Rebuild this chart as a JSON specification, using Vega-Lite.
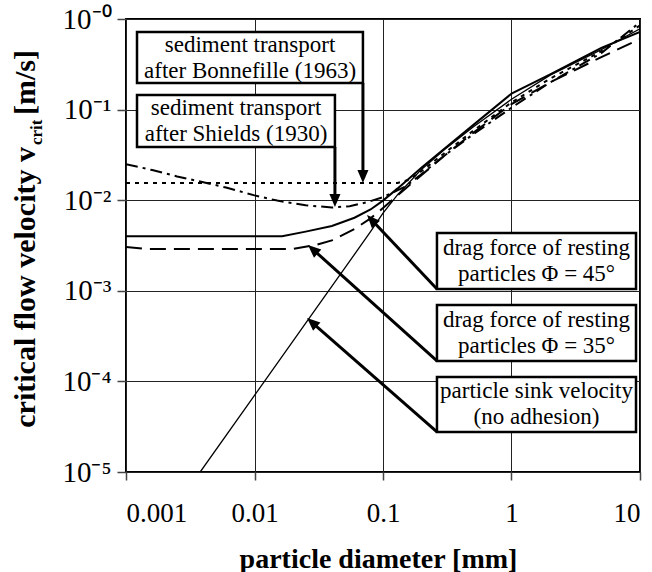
{
  "$schema": "https://vega.github.io/schema/vega-lite/v6.json",
  "width": 514,
  "height": 453,
  "autosize": {"type": "none"},
  "padding": {"left": 126, "top": 19, "right": 12, "bottom": 100},
  "background": "white",
  "config": {
    "font": "Liberation Serif",
    "view": {"stroke": "#000", "strokeWidth": 2},
    "axis": {
      "grid": true, "gridColor": "#222", "gridWidth": 1, "gridOpacity": 1,
      "domain": false, "tickColor": "#444", "tickWidth": 1.5,
      "labelFont": "Liberation Serif", "labelColor": "#000",
      "titleFont": "Liberation Serif", "titleColor": "#000"
    }
  },
  "datasets": {
    "curves": [
      {"s": "45", "d": 0.001, "v": 0.004}, {"s": "45", "d": 0.0164, "v": 0.004}, {"s": "45", "d": 0.025, "v": 0.0045}, {"s": "45", "d": 0.04, "v": 0.0052}, {"s": "45", "d": 0.06, "v": 0.0064}, {"s": "45", "d": 0.08, "v": 0.0079}, {"s": "45", "d": 0.1, "v": 0.0099}, {"s": "45", "d": 0.13, "v": 0.0135}, {"s": "45", "d": 0.2, "v": 0.023}, {"s": "45", "d": 0.3, "v": 0.037}, {"s": "45", "d": 0.5, "v": 0.067}, {"s": "45", "d": 1, "v": 0.15}, {"s": "45", "d": 2, "v": 0.245}, {"s": "45", "d": 5, "v": 0.48}, {"s": "45", "d": 10, "v": 0.72},
      {"s": "35", "d": 0.001, "v": 0.00305}, {"s": "35", "d": 0.0014, "v": 0.0029}, {"s": "35", "d": 0.02, "v": 0.0029}, {"s": "35", "d": 0.03, "v": 0.0032}, {"s": "35", "d": 0.04, "v": 0.0036}, {"s": "35", "d": 0.06, "v": 0.0048}, {"s": "35", "d": 0.08, "v": 0.0063}, {"s": "35", "d": 0.1, "v": 0.0082}, {"s": "35", "d": 0.15, "v": 0.0135}, {"s": "35", "d": 0.2, "v": 0.019}, {"s": "35", "d": 0.3, "v": 0.031}, {"s": "35", "d": 0.5, "v": 0.055}, {"s": "35", "d": 1, "v": 0.115}, {"s": "35", "d": 2, "v": 0.2}, {"s": "35", "d": 5, "v": 0.38}, {"s": "35", "d": 10, "v": 0.6},
      {"s": "shields", "d": 0.001, "v": 0.025}, {"s": "shields", "d": 0.0016, "v": 0.0215}, {"s": "shields", "d": 0.0025, "v": 0.0183}, {"s": "shields", "d": 0.004, "v": 0.0158}, {"s": "shields", "d": 0.006, "v": 0.0138}, {"s": "shields", "d": 0.01, "v": 0.0113}, {"s": "shields", "d": 0.015, "v": 0.0099}, {"s": "shields", "d": 0.025, "v": 0.0088}, {"s": "shields", "d": 0.04, "v": 0.0083}, {"s": "shields", "d": 0.055, "v": 0.0086}, {"s": "shields", "d": 0.075, "v": 0.0095}, {"s": "shields", "d": 0.1, "v": 0.0108}, {"s": "shields", "d": 0.15, "v": 0.0142}, {"s": "shields", "d": 0.2, "v": 0.0195}, {"s": "shields", "d": 0.3, "v": 0.031}, {"s": "shields", "d": 0.5, "v": 0.053}, {"s": "shields", "d": 1, "v": 0.105}, {"s": "shields", "d": 2, "v": 0.2}, {"s": "shields", "d": 5, "v": 0.42}, {"s": "shields", "d": 10, "v": 0.92},
      {"s": "bonnefille", "d": 0.001, "v": 0.0155}, {"s": "bonnefille", "d": 0.13, "v": 0.0155}, {"s": "bonnefille", "d": 0.16, "v": 0.0168}, {"s": "bonnefille", "d": 0.2, "v": 0.021}, {"s": "bonnefille", "d": 0.3, "v": 0.033}, {"s": "bonnefille", "d": 0.5, "v": 0.058}, {"s": "bonnefille", "d": 1, "v": 0.12}, {"s": "bonnefille", "d": 2, "v": 0.22}, {"s": "bonnefille", "d": 5, "v": 0.44}, {"s": "bonnefille", "d": 10, "v": 0.85},
      {"s": "sink", "d": 0.00378, "v": 0.00001}, {"s": "sink", "d": 0.01, "v": 0.00007}, {"s": "sink", "d": 0.03, "v": 0.00063}, {"s": "sink", "d": 0.06, "v": 0.00252}, {"s": "sink", "d": 0.08, "v": 0.0045}, {"s": "sink", "d": 0.1, "v": 0.0072}, {"s": "sink", "d": 0.13, "v": 0.0115}, {"s": "sink", "d": 0.2, "v": 0.022}, {"s": "sink", "d": 0.3, "v": 0.036}, {"s": "sink", "d": 0.5, "v": 0.064}, {"s": "sink", "d": 1, "v": 0.13}, {"s": "sink", "d": 2, "v": 0.24}, {"s": "sink", "d": 5, "v": 0.46}, {"s": "sink", "d": 10, "v": 0.78}
    ],
    "boxes": [
      {"name": "bonnefille", "d": 0.001218, "d2": 0.0698, "v": 0.1966, "v2": 0.7185},
      {"name": "shields", "d": 0.001218, "d2": 0.04226, "v": 0.03866, "v2": 0.1449},
      {"name": "45", "d": 0.263, "d2": 9.31, "v": 0.001047, "v2": 0.004345},
      {"name": "35", "d": 0.263, "d2": 9.31, "v": 0.000168, "v2": 0.000697},
      {"name": "sink", "d": 0.263, "d2": 9.31, "v": 0.00002765, "v2": 0.0001119}
    ],
    "labels": [
      {"name": "bonnefille", "d": 0.00923, "v": 0.3758, "text": "sediment transport\nafter Bonnefille (1963)"},
      {"name": "shields", "d": 0.00718, "v": 0.0748, "text": "sediment transport\nafter Shields (1930)"},
      {"name": "45", "d": 1.565, "v": 0.002133, "text": "drag force of resting\nparticles Φ = 45°"},
      {"name": "35", "d": 1.565, "v": 0.000342, "text": "drag force of resting\nparticles Φ = 35°"},
      {"name": "sink", "d": 1.565, "v": 0.0000556, "text": "particle sink velocity\n(no adhesion)"}
    ],
    "arrows": [
      {"name": "bonnefille", "d": 0.0698, "v": 0.1966, "d2": 0.0698, "v2": 0.01758},
      {"name": "shields", "d": 0.04226, "v": 0.03866, "d2": 0.04226, "v2": 0.009552},
      {"name": "45", "d": 0.263, "v": 0.001047, "d2": 0.08135, "v2": 0.006091},
      {"name": "35", "d": 0.263, "v": 0.000168, "d2": 0.02843, "v2": 0.002871},
      {"name": "sink", "d": 0.263, "v": 0.00002765, "d2": 0.02797, "v2": 0.000449}
    ],
    "heads": [
      {"name": "bonnefille", "d": 0.0698, "v": 0.01827},
      {"name": "shields", "d": 0.04226, "v": 0.009924},
      {"name": "45", "d": 0.08135, "v": 0.006091},
      {"name": "35", "d": 0.02843, "v": 0.002871},
      {"name": "sink", "d": 0.02797, "v": 0.000449}
    ],
    "ytitle": [
      {"part": "main", "d": 0.0001958, "v": 0.03866, "text": "critical flow velocity v"},
      {"part": "sub", "d": 0.0002219, "v": 0.04067, "text": "crit"},
      {"part": "unit", "d": 0.0001958, "v": 0.0872, "text": "[m/s]"}
    ]
  },
  "layer": [
    {
      "data": {"name": "curves"},
      "transform": [{"filter": "datum.s == 'bonnefille'"}],
      "mark": {"type": "line", "color": "#000", "strokeWidth": 2, "strokeDash": [4, 5], "clip": true},
      "encoding": {
        "x": {"field": "d", "type": "quantitative", "scale": {"type": "log", "domain": [0.001, 10]},
          "axis": {"title": "particle diameter [mm]", "values": [0.001, 0.01, 0.1, 1, 10], "format": "~g",
            "labelFontSize": 27, "labelPadding": 20, "tickSize": 8, "titleFontSize": 28, "titleFontWeight": "bold",
            "titleBaseline": "alphabetic", "titleY": 95, "titleX": 252}},
        "y": {"field": "v", "type": "quantitative", "scale": {"type": "log", "domain": [0.00001, 1]},
          "axis": {"title": null, "values": [0.00001, 0.0001, 0.001, 0.01, 0.1, 1],
            "labelExpr": "'10' + ['⁻⁰','⁻¹','⁻²','⁻³','⁻⁴','⁻⁵'][round(-log(datum.value)/LN10)]",
            "labelFontSize": 29, "labelPadding": 6, "tickSize": 9}}
      }
    },
    {
      "data": {"name": "curves"},
      "transform": [{"filter": "datum.s == 'shields'"}],
      "mark": {"type": "line", "color": "#000", "strokeWidth": 2, "strokeDash": [12, 5, 3, 5], "clip": true},
      "encoding": {"x": {"field": "d", "type": "quantitative"}, "y": {"field": "v", "type": "quantitative"}}
    },
    {
      "data": {"name": "curves"},
      "transform": [{"filter": "datum.s == '35'"}],
      "mark": {"type": "line", "color": "#000", "strokeWidth": 2, "strokeDash": [16, 8], "clip": true},
      "encoding": {"x": {"field": "d", "type": "quantitative"}, "y": {"field": "v", "type": "quantitative"}}
    },
    {
      "data": {"name": "curves"},
      "transform": [{"filter": "datum.s == '45'"}],
      "mark": {"type": "line", "color": "#000", "strokeWidth": 2, "clip": true},
      "encoding": {"x": {"field": "d", "type": "quantitative"}, "y": {"field": "v", "type": "quantitative"}}
    },
    {
      "data": {"name": "curves"},
      "transform": [{"filter": "datum.s == 'sink'"}],
      "mark": {"type": "line", "color": "#000", "strokeWidth": 1.3, "clip": true},
      "encoding": {"x": {"field": "d", "type": "quantitative"}, "y": {"field": "v", "type": "quantitative"}}
    },
    {
      "data": {"name": "boxes"},
      "mark": {"type": "rect", "fill": "#fff", "stroke": "#000", "strokeWidth": 2.5},
      "encoding": {
        "x": {"field": "d", "type": "quantitative"}, "x2": {"field": "d2"},
        "y": {"field": "v", "type": "quantitative"}, "y2": {"field": "v2"}
      }
    },
    {
      "data": {"name": "arrows"},
      "mark": {"type": "rule", "color": "#000", "strokeWidth": 3},
      "encoding": {
        "x": {"field": "d", "type": "quantitative"}, "x2": {"field": "d2"},
        "y": {"field": "v", "type": "quantitative"}, "y2": {"field": "v2"}
      }
    },
    {
      "data": {"name": "heads"},
      "transform": [{"filter": "datum.name == 'bonnefille' || datum.name == 'shields'"}],
      "mark": {"type": "point", "shape": "M0,-1L-0.85,1L0.85,1Z", "filled": true, "color": "#000", "opacity": 1, "size": 169, "angle": 180, "strokeWidth": 0},
      "encoding": {"x": {"field": "d", "type": "quantitative"}, "y": {"field": "v", "type": "quantitative"}}
    },
    {
      "data": {"name": "heads"},
      "transform": [{"filter": "datum.name == '45'"}],
      "mark": {"type": "point", "shape": "M0,-1L-0.85,1L0.85,1Z", "filled": true, "color": "#000", "opacity": 1, "size": 169, "angle": 316.6, "strokeWidth": 0},
      "encoding": {"x": {"field": "d", "type": "quantitative"}, "y": {"field": "v", "type": "quantitative"}}
    },
    {
      "data": {"name": "heads"},
      "transform": [{"filter": "datum.name == '35' || datum.name == 'sink'"}],
      "mark": {"type": "point", "shape": "M0,-1L-0.85,1L0.85,1Z", "filled": true, "color": "#000", "opacity": 1, "size": 169, "angle": 311.6, "strokeWidth": 0},
      "encoding": {"x": {"field": "d", "type": "quantitative"}, "y": {"field": "v", "type": "quantitative"}}
    },
    {
      "data": {"name": "labels"},
      "mark": {"type": "text", "font": "Liberation Serif", "fontSize": 23, "lineBreak": "\n", "lineHeight": 26, "align": "center", "baseline": "middle", "dy": -13, "color": "#000"},
      "encoding": {
        "x": {"field": "d", "type": "quantitative"}, "y": {"field": "v", "type": "quantitative"},
        "text": {"field": "text"}
      }
    },
    {
      "data": {"name": "ytitle"},
      "transform": [{"filter": "datum.part == 'main'"}],
      "mark": {"type": "text", "font": "Liberation Serif", "fontSize": 30, "fontWeight": "bold", "angle": 270, "align": "right", "baseline": "alphabetic", "color": "#000"},
      "encoding": {"x": {"field": "d", "type": "quantitative"}, "y": {"field": "v", "type": "quantitative"}, "text": {"field": "text"}}
    },
    {
      "data": {"name": "ytitle"},
      "transform": [{"filter": "datum.part == 'sub'"}],
      "mark": {"type": "text", "font": "Liberation Serif", "fontSize": 17, "fontWeight": "bold", "angle": 270, "align": "left", "baseline": "alphabetic", "color": "#000"},
      "encoding": {"x": {"field": "d", "type": "quantitative"}, "y": {"field": "v", "type": "quantitative"}, "text": {"field": "text"}}
    },
    {
      "data": {"name": "ytitle"},
      "transform": [{"filter": "datum.part == 'unit'"}],
      "mark": {"type": "text", "font": "Liberation Serif", "fontSize": 30, "fontWeight": "bold", "angle": 270, "align": "left", "baseline": "alphabetic", "color": "#000"},
      "encoding": {"x": {"field": "d", "type": "quantitative"}, "y": {"field": "v", "type": "quantitative"}, "text": {"field": "text"}}
    }
  ]
}
